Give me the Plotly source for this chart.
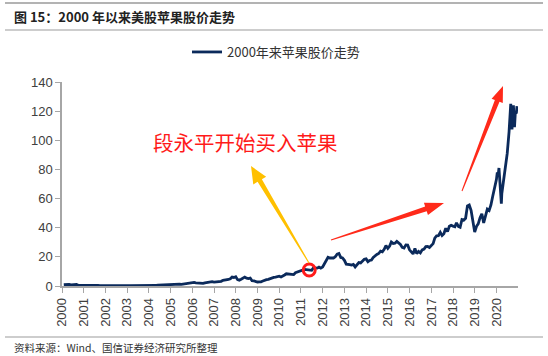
import plotly.graph_objects as go
import pandas as pd

# ---------------- data ----------------
monthly_start = "2000-01-31"
monthly_values = [
    # 2000
    0.93, 1.03, 1.21, 1.11, 0.75, 0.94, 0.91, 1.09, 0.46, 0.35, 0.30, 0.27,
    # 2001
    0.39, 0.33, 0.39, 0.46, 0.36, 0.42, 0.34, 0.33, 0.28, 0.31, 0.38, 0.39,
    # 2002
    0.44, 0.39, 0.42, 0.43, 0.42, 0.32, 0.27, 0.26, 0.26, 0.29, 0.28, 0.26,
    # 2003
    0.26, 0.27, 0.25, 0.25, 0.32, 0.34, 0.38, 0.40, 0.37, 0.41, 0.37, 0.38,
    # 2004
    0.40, 0.43, 0.48, 0.46, 0.50, 0.58, 0.58, 0.62, 0.69, 0.93, 1.10, 1.08,
    # 2005
    1.23, 1.44, 1.34, 1.16, 1.28, 1.18, 1.38, 1.50, 1.72, 1.85, 2.16, 2.31,
    # 2006
    2.42, 2.20, 2.02, 2.27, 1.92, 1.84, 2.18, 2.43, 2.48, 2.61, 2.94, 2.73,
    # 2007
    2.76, 2.72, 2.99, 3.20, 3.90, 3.92, 4.23, 4.46, 4.93, 6.10, 5.87, 6.36,
    # 2008
    4.35, 4.02, 4.61, 5.59, 6.08, 5.38, 5.10, 5.45, 3.65, 3.46, 2.97, 2.75,
    # 2009
    2.88, 2.87, 3.38, 4.04, 4.37, 4.58, 5.23, 5.38, 5.96, 6.06, 6.40, 6.78,
    # 2010
    6.17, 6.58, 7.55, 8.39, 8.26, 8.08, 8.27, 7.81, 9.12, 9.67, 10.06, 10.37,
    # 2011
    10.91, 11.35, 11.21, 11.19, 11.18, 10.79, 12.56, 12.37, 12.26, 13.01, 12.26, 13.01,
    # 2012
    15.0, 17.8, 19.7, 19.2, 19.0, 19.2, 20.1, 21.9, 22.3, 19.6, 19.3, 17.6,
    # 2013
    15.0, 14.6, 14.6, 14.3, 14.8, 13.1, 14.9, 16.1, 15.8, 17.3, 18.4, 18.6,
    # 2014
    16.6, 17.5, 17.8, 19.6, 21.0, 21.6, 22.3, 23.9, 23.5, 25.2, 27.8, 25.8,
    # 2015
    27.4, 30.2, 29.2, 29.4, 30.6, 29.5, 28.5, 26.5, 26.0, 28.2, 28.1, 24.8,
    # 2016
    23.0, 22.0, 25.8, 22.2, 23.7, 22.7, 24.8, 25.3, 27.0, 27.1, 26.4, 27.7,
    # 2017
    29.1, 32.9, 34.5, 34.6, 36.8, 34.7, 35.9, 39.6, 37.3, 41.0, 41.7, 41.1,
    # 2018
    40.7, 43.4, 40.9, 40.3, 45.6, 45.2, 46.5, 55.0, 55.6, 52.0, 43.8, 37.0,
    # 2019
    41.0, 42.7, 46.9, 49.6, 43.3, 49.0, 52.8, 51.8, 55.6, 61.8, 66.4, 73.0,
]

dates_2020 = ["2020-01-15", "2020-01-31", "2020-02-12", "2020-02-28", "2020-03-23",
              "2020-03-31", "2020-04-30", "2020-05-29", "2020-06-30", "2020-07-31",
              "2020-08-14", "2020-08-28", "2020-09-18", "2020-09-30", "2020-10-12",
              "2020-10-30", "2020-11-13", "2020-11-30", "2020-12-11"]
values_2020 = [78.0, 76.5, 81.0, 68.0, 56.5,
               63.5, 73.0, 79.0, 91.0, 106.0,
               114.0, 125.0, 107.5, 115.5, 124.0,
               109.0, 119.0, 118.5, 123.5]

dates = list(pd.date_range(monthly_start, periods=len(monthly_values), freq="ME").strftime("%Y-%m-%d")) + dates_2020
prices = monthly_values + values_2020

year_ticks = [str(y) for y in range(2000, 2021)]
y_ticks = [0, 20, 40, 60, 80, 100, 120, 140]

marker_date = ["2011-05-20"]
marker_value = [11.0]

series_name = "2000年来苹果股价走势"
title_text = "图 15：2000 年以来美股苹果股价走势"
source_text = "资料来源：Wind、国信证券经济研究所整理"
note_text = "段永平开始买入苹果"

# ---------------- layout geometry ----------------
W, H = 548, 356
L, R, T, B = 62, 518, 82, 286


def px(x, y):
    return (x - L) / (R - L), (B - y) / (B - T)


def arrow_path(x0, y0, x1, y1, tail_w, neck_w, head_w, head_len):
    import math
    dx, dy = x1 - x0, y1 - y0
    d = math.hypot(dx, dy)
    ux, uy = dx / d, dy / d
    nx, ny = -uy, ux
    bx, by = x1 - ux * head_len, y1 - uy * head_len
    pts = [
        (x0 + nx * tail_w / 2, y0 + ny * tail_w / 2),
        (bx + nx * neck_w / 2, by + ny * neck_w / 2),
        (bx + nx * head_w / 2, by + ny * head_w / 2),
        (x1, y1),
        (bx - nx * head_w / 2, by - ny * head_w / 2),
        (bx - nx * neck_w / 2, by - ny * neck_w / 2),
        (x0 - nx * tail_w / 2, y0 - ny * tail_w / 2),
    ]
    p = [px(a, b) for a, b in pts]
    return "M " + " L ".join(f"{a:.5f},{b:.5f}" for a, b in p) + " Z"


fig = go.Figure()
fig.add_trace(go.Scatter(
    x=dates, y=prices, mode="lines", name=series_name,
    line=dict(color="#0B2A5B", width=2.8),
))
fig.add_trace(go.Scatter(
    x=marker_date, y=marker_value, mode="markers", showlegend=False,
    marker=dict(symbol="circle-open", size=12, color="#FF1A1A", line=dict(width=3, color="#FF1A1A")),
))

font_main = "Liberation Sans, Arial, Noto Sans CJK SC, sans-serif"
font_cjk = "Noto Sans CJK SC, Liberation Sans, sans-serif"

shapes = []
# tapered arrows
shapes.append(dict(type="path", xref="paper", yref="paper",
                   path=arrow_path(309, 263, 251, 166, 1.0, 5.0, 15.0, 17.0),
                   fillcolor="#FFC000", line=dict(width=0)))
shapes.append(dict(type="path", xref="paper", yref="paper",
                   path=arrow_path(331, 240, 444, 203, 1.0, 5.0, 13.0, 19.0),
                   fillcolor="#FF2A1A", line=dict(width=0)))
shapes.append(dict(type="path", xref="paper", yref="paper",
                   path=arrow_path(462, 191, 503, 86, 1.0, 5.0, 12.0, 16.0),
                   fillcolor="#FF2A1A", line=dict(width=0)))
# frame lines
for yy, col in [(3, "#9A9A9A"), (30, "#BDBDBD"), (337, "#BDBDBD")]:
    a0, b0 = px(5, yy)
    a1, _ = px(543, yy)
    shapes.append(dict(type="line", xref="paper", yref="paper", x0=a0, x1=a1, y0=b0, y1=b0,
                       line=dict(color=col, width=1.5)))

annotations = []
tx, ty = px(12, 16)
annotations.append(dict(xref="paper", yref="paper", x=tx, y=ty, xanchor="left", yanchor="middle",
                        text="<b>" + title_text + "</b>", showarrow=False,
                        font=dict(family=font_cjk, size=13, color="#222222")))
sx, sy = px(12, 347)
annotations.append(dict(xref="paper", yref="paper", x=sx, y=sy, xanchor="left", yanchor="middle",
                        text=source_text, showarrow=False,
                        font=dict(family=font_cjk, size=10.5, color="#333333")))
nx_, ny_ = px(245, 142)
annotations.append(dict(xref="paper", yref="paper", x=nx_, y=ny_, xanchor="center", yanchor="middle",
                        text=note_text, showarrow=False,
                        font=dict(family=font_cjk, size=20.5, color="#FF1A1A")))

lx, ly = px(276, 52)
fig.update_layout(
    width=W, height=H,
    margin=dict(l=L, r=W - R, t=T, b=H - B, pad=0),
    paper_bgcolor="white", plot_bgcolor="white",
    showlegend=True,
    legend=dict(orientation="h", x=lx, y=ly, xanchor="center", yanchor="middle",
                font=dict(family=font_cjk, size=13, color="#333333"),
                itemwidth=30, bgcolor="rgba(0,0,0,0)"),
    shapes=shapes, annotations=annotations,
    xaxis=dict(type="date", range=["2000-01-01", "2020-12-28"],
               tickmode="array", tickvals=[f"{y}-01-01" for y in year_ticks], ticktext=year_ticks,
               tickangle=-90, ticks="outside", ticklen=5, tickcolor="#A6A6A6",
               showline=True, linecolor="#A6A6A6", linewidth=1.5, showgrid=False, zeroline=False,
               tickfont=dict(family=font_main, size=13, color="#404040")),
    yaxis=dict(range=[0, 140], tickmode="array", tickvals=y_ticks,
               ticks="outside", ticklen=5, tickcolor="#A6A6A6",
               showline=True, linecolor="#A6A6A6", linewidth=1.5, showgrid=False, zeroline=False,
               tickfont=dict(family=font_main, size=13, color="#404040")),
)

fig.write_html("out.html", config={"displayModeBar": False},
               post_script="document.body.style.margin='0';document.body.style.overflow='hidden';")
